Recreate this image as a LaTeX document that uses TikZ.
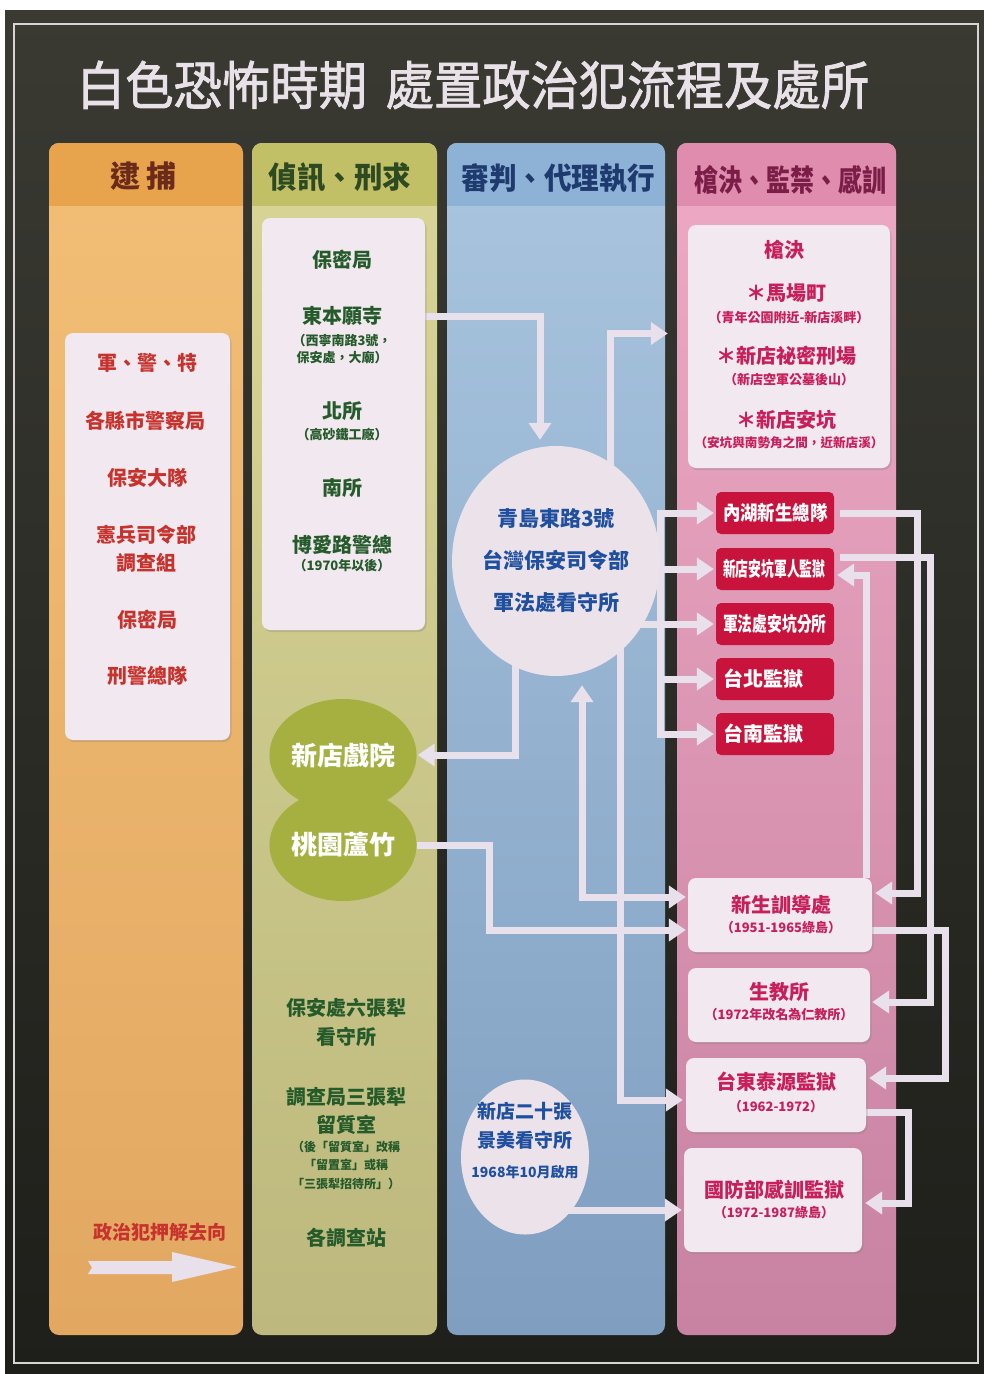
\documentclass[tikz,border=0pt]{standalone}
\usepackage{fontspec}
\setmainfont{Noto Sans CJK TC}
\newfontfamily\mdf{Noto Sans CJK TC}[FakeBold=1.6]
\usetikzlibrary{arrows.meta,shapes.geometric,calc,shadows}
\pgfdeclarelayer{cols}
\pgfdeclarelayer{lines}
\pgfsetlayers{cols,lines,main}
\definecolor{boardtop}{HTML}{3A3A33}
\definecolor{boardbot}{HTML}{1E1E1A}
\definecolor{framec}{HTML}{D8D4D6}
\definecolor{titlec}{HTML}{E9E1E8}
\definecolor{hA}{HTML}{E7A44C}
\definecolor{bAt}{HTML}{F2BE76}
\definecolor{bAb}{HTML}{E2A862}
\definecolor{hB}{HTML}{C2C066}
\definecolor{bBt}{HTML}{D8D596}
\definecolor{bBb}{HTML}{BDB97E}
\definecolor{hC}{HTML}{8EB2D6}
\definecolor{bCt}{HTML}{A9C5DF}
\definecolor{bCb}{HTML}{7F9EC0}
\definecolor{hD}{HTML}{E08CAE}
\definecolor{bDt}{HTML}{EEAAC4}
\definecolor{bDb}{HTML}{C882A2}
\definecolor{tA}{HTML}{6B2A1A}
\definecolor{tB}{HTML}{2E4A22}
\definecolor{tC}{HTML}{1E3A6E}
\definecolor{tD}{HTML}{7A1E48}
\definecolor{cA}{HTML}{C8322D}
\definecolor{cB}{HTML}{255A2A}
\definecolor{cC}{HTML}{1F50A0}
\definecolor{cD}{HTML}{C81E5A}
\definecolor{boxred}{HTML}{C8143C}
\definecolor{gcirc}{HTML}{A5B040}
\definecolor{wbx}{HTML}{F1E9EF}
\definecolor{wcirc}{HTML}{ECE2EA}
\definecolor{lnc}{HTML}{E8E0EA}
\newcommand\fz[2]{\fontsize{#1}{#2}\selectfont}
\newcommand\hsq[2]{\scalebox{#1}[1]{#2}}
\newcommand\mkcol[5]{%
  \shade[top color=#4,bottom color=#5,rounded corners=10pt] (#1,143) rectangle (#2,1335);
  \begin{scope}
    \clip[rounded corners=10pt] (#1,143) rectangle (#2,1335);
    \fill[#3] (#1,143) rectangle (#2,206);
  \end{scope}}
\tikzset{
  bigtri/.tip={Triangle[width=22pt,length=17pt]},
  conn/.style={draw=lnc,line width=7pt,line join=miter,-bigtri},
  lin/.style={draw=lnc,line width=7pt,line join=miter,line cap=rect},
  wbox/.style={rectangle,rounded corners=8pt,fill=wbx,inner sep=0pt,
    drop shadow={shadow xshift=1.5pt,shadow yshift=-2pt,opacity=.3}},
  rbox/.style={rectangle,rounded corners=5pt,fill=boxred,text=white,
    minimum height=42pt,text width=104pt,align=left,inner xsep=7pt,inner ysep=0pt,
    font=\fz{20}{20}\bfseries},
  gell/.style={ellipse,fill=gcirc,minimum width=124pt,minimum height=112pt,
    inner sep=0pt,text=white,font=\fz{26}{26}\bfseries},
  itm/.style={inner sep=0pt,align=center,font=\fz{20}{28}\bfseries},
  sml/.style={inner sep=0pt,align=center,font=\fz{13}{17}\bfseries},
  hd/.style={inner sep=0pt,font=\fz{30}{30}\bfseries},
}
\begin{document}
\begin{tikzpicture}[x=1pt,y=-1pt]
\useasboundingbox (0,0) rectangle (984,1374);
\begin{pgfonlayer}{cols}
  \fill[white] (0,0) rectangle (984,1374);
  \shade[top color=boardtop,bottom color=boardbot] (5,10) rectangle (984,1374);
  \draw[framec,line width=2.5pt] (14,24) rectangle (978,1363);
  \mkcol{49}{243}{hA}{bAt}{bAb}
  \mkcol{252}{437}{hB}{bBt}{bBb}
  \mkcol{447}{665}{hC}{bCt}{bCb}
  \mkcol{677}{896}{hD}{bDt}{bDb}
  \fill[lnc] (88,1261) -- (172,1261) -- (172,1252) -- (237,1267) -- (172,1282)
    -- (172,1274) -- (88,1274) -- (92,1267.5) -- cycle;
\end{pgfonlayer}

% title and headers
\node[inner sep=0pt,text=titlec,font=\fz{52}{52}\mdf] (title) at (473,85)
  {\hsq{0.93}{白色恐怖時期\hspace{20pt}處置政治犯流程及處所}};
\node[hd,text=tA] (h1) at (143,176) {逮\hspace{6pt}捕};
\node[hd,text=tB] (h2) at (340,177) {\hsq{0.95}{偵訊、刑求}};
\node[hd,text=tC] (h3) at (558,178) {\hsq{0.92}{審判、代理執行}};
\node[hd,text=tD] (h4) at (790,180) {\hsq{0.8}{槍決、監禁、感訓}};

% column 1
\node[wbox,minimum width=165pt,minimum height=407pt] (b1) at (147.5,536.5) {};
\node[itm,text=cA] (n11) at (147,363) {軍、警、特};
\node[itm,text=cA] (n12) at (145,421) {各縣市警察局};
\node[itm,text=cA] (n13) at (147,478) {保安大隊};
\node[itm,text=cA] (n14) at (146,549) {憲兵司令部\\調查組};
\node[itm,text=cA] (n15) at (147,620) {保密局};
\node[itm,text=cA] (n16) at (147,676) {刑警總隊};
\node[itm,text=cA,font=\fz{19}{19}\bfseries] (lg) at (160,1232) {政治犯押解去向};

% column 2
\node[wbox,minimum width=163pt,minimum height=412pt] (b2) at (343.5,424) {};
\node[itm,text=cB] (n21) at (342,260) {保密局};
\node[itm,text=cB] (n22) at (342,316) {東本願寺};
\node[sml,text=cB] (n22a) at (342,349) {（西寧南路3號，\\保安處，大廟）};
\node[itm,text=cB] (n23) at (342,411) {北所};
\node[sml,text=cB] (n23a) at (342,434) {（高砂鐵工廠）};
\node[itm,text=cB] (n24) at (342,488) {南所};
\node[itm,text=cB] (n25) at (342,545) {博愛路警總};
\node[sml,text=cB] (n25a) at (342,566) {（1970年以後）};
\node[gell] (xd) at (343,755) {新店戲院};
\node[gell] (ty) at (343,845) {桃園蘆竹};
\node[itm,text=cB,font=\fz{20}{29}\bfseries] (n26) at (346,1022) {保安處六張犁\\看守所};
\node[itm,text=cB] (n27) at (346,1111) {調查局三張犁\\留質室};
\node[sml,text=cB,font=\fz{12}{18.5}\bfseries] (n27a) at (346,1165) {（後「留質室」改稱\\「留置室」或稱\\「三張犁招待所」）};
\node[itm,text=cB] (n28) at (346,1238) {各調查站};

% column 3
\node[ellipse,fill=wcirc,minimum width=192pt,minimum height=230pt,inner sep=0pt,
  text=cC,align=center,font=\fz{21}{42}\bfseries] (qd) at (556,561)
  {青島東路3號\\台灣保安司令部\\軍法處看守所};
\node[ellipse,fill=wcirc,minimum width=128pt,minimum height=155pt,inner sep=0pt] (jm) at (525,1157) {};
\node[itm,text=cC,font=\fz{19}{19}\bfseries] (jm1) at (525,1111) {新店二十張};
\node[itm,text=cC,font=\fz{19}{19}\bfseries] (jm2) at (525,1140) {景美看守所};
\node[itm,text=cC,font=\fz{14}{14}\bfseries] (jm3) at (525,1172) {1968年10月啟用};

% column 4
\node[wbox,minimum width=202pt,minimum height=243pt] (exe) at (789,346.5) {};
\node[itm,text=cD] (e1) at (784,250) {槍決};
\node[itm,text=cD] (e2) at (786,293) {＊馬場町};
\node[sml,text=cD] (e2a) at (789,318) {（青年公園附近-新店溪畔）};
\node[itm,text=cD] (e3) at (786,356) {＊新店祕密刑場};
\node[sml,text=cD] (e3a) at (789,380) {（新店空軍公墓後山）};
\node[itm,text=cD] (e4) at (786,420) {＊新店安坑};
\node[sml,text=cD,font=\fz{12.6}{17}\bfseries] (e4a) at (789,443) {（安坑與南勢角之間，近新店溪）};

\node[rbox] (r1) at (775,513) {\hsq{0.87}{內湖新生總隊}};
\node[rbox] (r2) at (775,569) {\hsq{0.64}{新店安坑軍人監獄}};
\node[rbox] (r3) at (775,624) {\hsq{0.74}{軍法處安坑分所}};
\node[rbox] (r4) at (775,679) {台北監獄};
\node[rbox] (r5) at (775,734) {台南監獄};

\node[wbox,minimum width=184pt,minimum height=74pt] (w1) at (780,915) {};
\node[itm,text=cD] (w1a) at (781,905) {新生訓導處};
\node[sml,text=cD] (w1b) at (781,928) {（1951-1965綠島）};
\node[wbox,minimum width=182pt,minimum height=74pt] (w2) at (779,1005) {};
\node[itm,text=cD] (w2a) at (779,992) {生教所};
\node[sml,text=cD] (w2b) at (779,1015) {（1972年改名為仁教所）};
\node[wbox,minimum width=180pt,minimum height=74pt] (w3) at (776,1095) {};
\node[itm,text=cD] (w3a) at (776,1082) {台東泰源監獄};
\node[sml,text=cD] (w3b) at (776,1107) {（1962-1972）};
\node[wbox,minimum width=178pt,minimum height=104pt] (w4) at (773,1200) {};
\node[itm,text=cD] (w4a) at (774,1190) {國防部感訓監獄};
\node[sml,text=cD] (w4b) at (774,1213) {（1972-1987綠島）};

\coordinate (trunk) at (660,0);

\begin{pgfonlayer}{lines}
  % interrogation -> military court
  \draw[conn,shorten >=6pt] (b2.east |- n22) -| ([xshift=-16pt]qd.north);
  % court -> execution
  \draw[conn,shorten >=20pt] ([xshift=54pt]qd.center) |- ([yshift=13pt]exe.west);
  % court -> prisons
  \draw[lin] (qd.center |- r3.west) -- (r3.west -| trunk);
  \draw[lin] (r1.west -| trunk) -- (r5.west -| trunk);
  \foreach \rb in {r1,r2,r3,r4,r5}
    \draw[conn,shorten >=2pt] (\rb.west -| trunk) -- (\rb.west);
  % court -> Xindian theatre
  \draw[conn,shorten >=1pt] ([xshift=-41pt]qd.center) |- (xd.east);
  % Taoyuan -> Green Island
  \draw[conn,shorten >=2pt] (ty.east) -| ($(w1.west)+(-198,15)$) -- ($(w1.west)+(0,15)$);
  % Green Island <-> court
  \draw[conn,bigtri-bigtri,shorten <=2pt,shorten >=9pt] ($(w1.west)+(0,-18)$) -| ($(qd.south)+(26,0)$);
  % court -> Taiyuan
  \draw[conn,shorten >=3pt] ([xshift=64pt]qd.center) |- ($(w3.west)+(0,5)$);
  % Jingmei -> Ministry of Defence
  \draw[conn,shorten >=2pt] ($(jm.center)+(0,53)$) -- ($(w4.west)+(0,10)$);
  % right side links
  \draw[conn,shorten <=6pt,shorten >=3pt] (r1.east) -| ($(w1.east)+(45,-22)$) -- ($(w1.east)+(0,-22)$);
  \draw[conn,shorten <=6pt,shorten >=2pt] ($(r2.east)+(0,-12)$) -| ($(w2.east)+(60,-3)$) -- ($(w2.east)+(0,-3)$);
  \draw[conn,shorten >=3pt] ($(w1.north east)+(-6,0)$) |- ($(r2.east)+(0,6)$);
  \draw[conn,shorten >=3pt] ($(w1.east)+(0,15)$) -| ($(w3.east)+(79,-17)$) -- ($(w3.east)+(0,-17)$);
  \draw[conn,shorten >=3pt] ($(w3.east)+(0,17)$) -| ($(w4.east)+(46,3)$) -- ($(w4.east)+(0,3)$);
\end{pgfonlayer}
\end{tikzpicture}
\end{document}
